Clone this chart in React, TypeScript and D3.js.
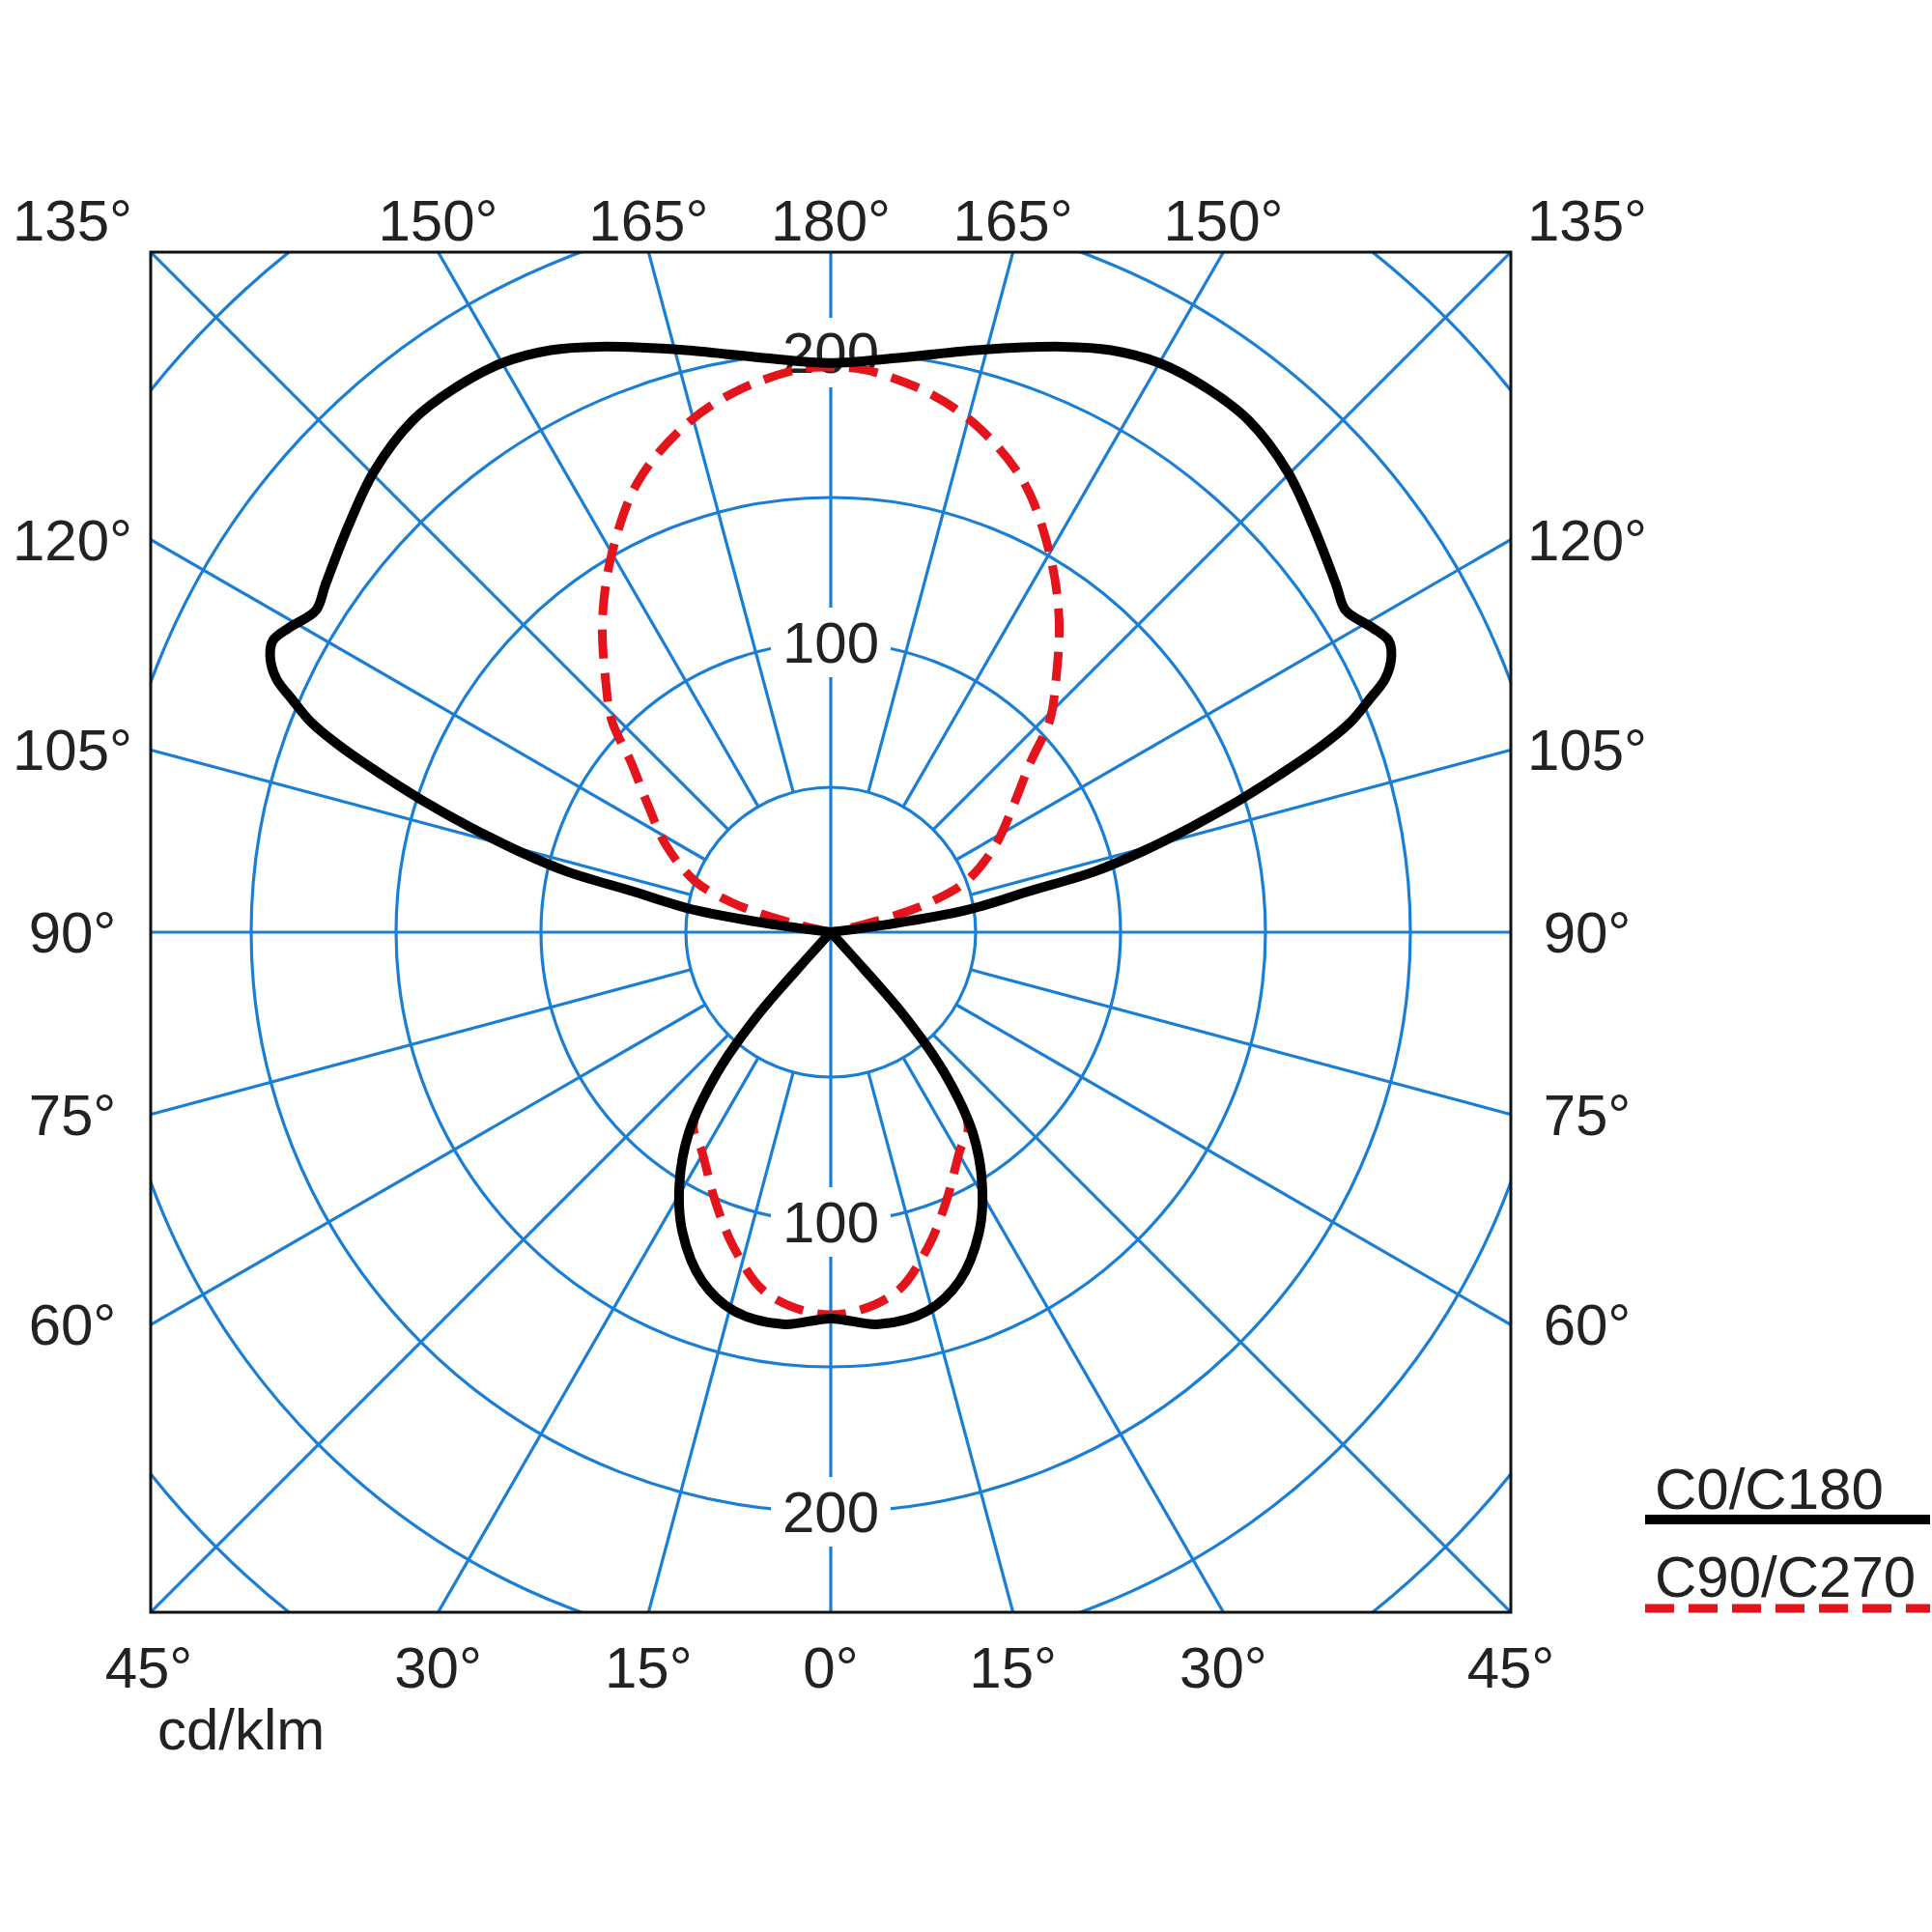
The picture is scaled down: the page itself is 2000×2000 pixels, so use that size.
import * as d3 from "d3";
import { useEffect } from "react";

// polar grid
const gridCircles = [50, 100, 150, 200, 250, 300];
const radialTicks = [100, 200];
const spokeAngles = d3.range(0, 360, 15);

// gamma labels round the box
const topLabels = [150, 165, 180];
const sideLabels = [120, 105, 90, 75, 60];
const bottomLabels = [30, 15, 0];

// [gamma in degrees (0 = down, 180 = up), cd/klm]
const c0Upper: [number, number][] = [
  [96.5, 0], [97.7, 19], [99.2, 47], [101.7, 70.3], [102.96, 93.5], [104.55, 111.3],
  [106.26, 129.7], [107.91, 148.3], [109.04, 161], [110.72, 180.6], [112.04, 193.7],
  [113.3, 202], [114.6, 210.5], [116.2, 215.6], [117.6, 217.2], [119.4, 214.3],
  [122, 209.5], [124.5, 211.6], [130, 217.5], [135.2, 223.8], [140.7, 228],
  [145.3, 228.2], [150, 226.8], [154.3, 222.9], [158.4, 217.3], [166, 207],
  [173.6, 199.3], [180, 196.4],
];
const c0Lower: [number, number][] = [
  [0, 133.3], [7, 136.3], [14.3, 134.9], [20.3, 128.2], [26.3, 115.5], [31, 101.4],
  [35.3, 84.7], [39, 61.8], [41.3, 38.7], [42, 17], [42.5, 0],
];
const c90Upper: [number, number][] = [
  [100.5, 0], [103, 11], [104.8, 25], [107, 37], [110.6, 50], [117.7, 64], [124.9, 77],
  [130.4, 90.5], [134, 105], [138, 116], [144, 134], [150, 151], [156.8, 169],
  [164, 182], [170, 189.4], [176.7, 194.5], [180, 195],
];
const c90Lower: [number, number][] = [
  [0, 132], [10, 126.6], [17, 114], [23.4, 100.7], [30.4, 87.8], [35.3, 82],
  [39, 61.8], [41.3, 38.7], [42, 17], [42.5, 0],
];

const series = [
  { name: "C0/C180", upper: c0Upper, lower: c0Lower, color: "#000000", width: 10, dash: "" },
  { name: "C90/C270", upper: c90Upper, lower: c90Lower, color: "#e3141b", width: 9, dash: "30 15" },
];

const FONT = "'Liberation Sans', Arial, Helvetica, sans-serif";
const BLUE = "#1a7fd4";
const TXT = "#222222";

type P = { a: number; v: number };

export default function App() {
  useEffect(() => {
    document.body.style.margin = "0";
  }, []);

  const W = 2000, H = 2000;
  const cx = 860, cy = 965, half = 704;
  const left = cx - half, right = cx + half, top = cy - half, bottom = cy + half;
  const deg = Math.PI / 180;

  const r = d3.scaleLinear().domain([0, 50]).range([0, 150]);

  const radial = d3
    .lineRadial<P>()
    .angle(d => d.a)
    .radius(d => r(d.v))
    .curve(d3.curveCatmullRom.alpha(0.5));

  // left half goes up to 180, then back down the right half
  const upperPts = (data: [number, number][]): P[] => [
    ...data.map(([g, v]) => ({ a: (g - 180) * deg, v })),
    ...data.slice(0, -1).reverse().map(([g, v]) => ({ a: (180 - g) * deg, v })),
  ];
  const lowerPts = (data: [number, number][]): P[] => [
    ...data.slice().reverse().map(([g, v]) => ({ a: (180 - g) * deg, v })),
    ...data.slice(1).map(([g, v]) => ({ a: (180 + g) * deg, v })),
  ];

  const sideY = (g: number) => cy + half / Math.tan(g * deg);
  const topX = (g: number, s: number) => cx + s * half * Math.tan((180 - g) * deg);
  const botX = (g: number, s: number) => cx + s * half * Math.tan(g * deg);

  const colL = 75, colR = 1643, rowTop = 249, rowBot = 1747;

  const angleLabels: { x: number; y: number; t: string }[] = [];
  topLabels.forEach(g => {
    if (g === 180) angleLabels.push({ x: cx, y: rowTop, t: `${g}°` });
    else [-1, 1].forEach(s => angleLabels.push({ x: topX(g, s), y: rowTop, t: `${g}°` }));
  });
  angleLabels.push({ x: colL, y: rowTop, t: "135°" }, { x: colR, y: rowTop, t: "135°" });
  sideLabels.forEach(g => {
    angleLabels.push({ x: colL, y: sideY(g) + 21, t: `${g}°` }, { x: colR, y: sideY(g) + 21, t: `${g}°` });
  });
  bottomLabels.forEach(g => {
    if (g === 0) angleLabels.push({ x: cx, y: rowBot, t: `${g}°` });
    else [-1, 1].forEach(s => angleLabels.push({ x: botX(g, s), y: rowBot, t: `${g}°` }));
  });
  angleLabels.push({ x: left - 2, y: rowBot, t: "45°" }, { x: right, y: rowBot, t: "45°" });

  return (
    <svg width={W} height={H} style={{ display: "block", position: "absolute", left: 0, top: 0 }}>
      <rect width={W} height={H} fill="#ffffff" />
      <defs>
        <clipPath id="box">
          <rect x={left} y={top} width={2 * half} height={2 * half} />
        </clipPath>
      </defs>

      <g clipPath="url(#box)" stroke={BLUE} strokeWidth={3.2} fill="none">
        {gridCircles.map(v => (
          <circle key={v} cx={cx} cy={cy} r={r(v)} />
        ))}
        {spokeAngles
          .filter(a => a % 90 !== 0)
          .map(a => (
            <line
              key={a}
              x1={cx + r(50) * Math.sin(a * deg)}
              y1={cy - r(50) * Math.cos(a * deg)}
              x2={cx + r(360) * Math.sin(a * deg)}
              y2={cy - r(360) * Math.cos(a * deg)}
            />
          ))}
        <line x1={cx} y1={top} x2={cx} y2={bottom} />
        <line x1={left} y1={cy} x2={right} y2={cy} />
      </g>

      {radialTicks.flatMap(v => [cy - r(v), cy + r(v)]).map((y, i) => (
        <g key={i}>
          <rect x={cx - 62} y={y - 36} width={124} height={72} fill="#ffffff" />
          <text x={cx} y={y + 21} textAnchor="middle" fontFamily={FONT} fontSize={60} fill={TXT}>
            {radialTicks[Math.floor(i / 2)]}
          </text>
        </g>
      ))}

      <rect x={left} y={top} width={2 * half} height={2 * half} fill="none" stroke="#111" strokeWidth={3} />

      <g transform={`translate(${cx},${cy})`} fill="none">
        {series
          .slice()
          .reverse()
          .map(s => (
            <g key={s.name} stroke={s.color} strokeWidth={s.width} strokeDasharray={s.dash || undefined}
              strokeLinejoin="round" strokeLinecap={s.dash ? "butt" : "round"}>
              <path d={radial(upperPts(s.upper)) ?? ""} />
              <path d={radial(lowerPts(s.lower)) ?? ""} />
            </g>
          ))}
      </g>

      <g fontFamily={FONT} fontSize={60} fill={TXT} textAnchor="middle">
        {angleLabels.map((l, i) => (
          <text key={i} x={l.x} y={l.y}>{l.t}</text>
        ))}
      </g>
      <text x={163} y={1811} fontFamily={FONT} fontSize={60} fill={TXT}>cd/klm</text>

      {series.map((s, i) => (
        <g key={s.name}>
          <text x={1713} y={1562 + i * 91} fontFamily={FONT} fontSize={60} fill={TXT}>{s.name}</text>
          <line x1={1703} x2={1998} y1={1573 + i * 92} y2={1573 + i * 92} stroke={s.color}
            strokeWidth={s.width} strokeDasharray={s.dash || undefined} />
        </g>
      ))}
    </svg>
  );
}
